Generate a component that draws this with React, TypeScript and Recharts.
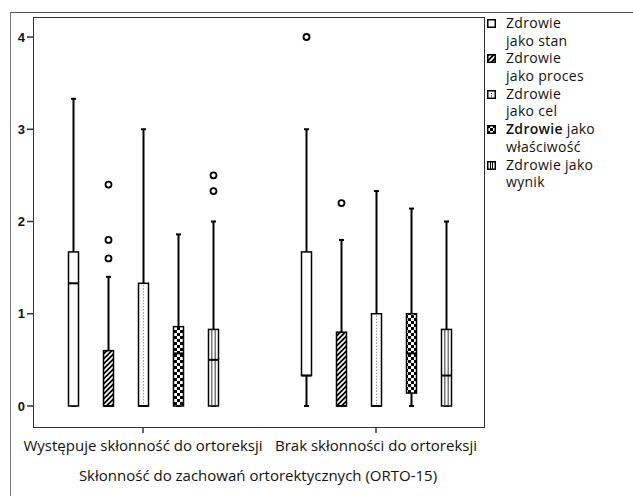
import { ComposedChart, Bar, XAxis, YAxis } from "recharts";

// box stats per category: [min, q1, median, q3, max]
const categories = [
  "Występuje skłonność do ortoreksji",
  "Brak skłonności do ortoreksji",
];

const stan = [
  [0, 0, 1.33, 1.67, 3.33],
  [0, 0.33, 0.33, 1.67, 3],
];
const proces = [
  [0, 0, 0, 0.6, 1.4],
  [0, 0, 0, 0.8, 1.8],
];
const cel = [
  [0, 0, 0, 1.33, 3],
  [0, 0, 0, 1, 2.33],
];
const wlasciwosc = [
  [0, 0, 0.57, 0.86, 1.86],
  [0, 0.14, 0.57, 1, 2.14],
];
const wynik = [
  [0, 0, 0.5, 0.83, 2],
  [0, 0, 0.33, 0.83, 2],
];

const stanOutliers = [[], [4]];
const procesOutliers = [[2.4, 1.8, 1.6], [2.2]];
const celOutliers = [[], []];
const wlasciwoscOutliers = [[], []];
const wynikOutliers = [[2.5, 2.33], []];

const yTicks = [0, 1, 2, 3, 4];

const seriesKeys = ["stan", "proces", "cel", "wlasciwosc", "wynik"];
const seriesNames = [
  "Zdrowie jako stan",
  "Zdrowie jako proces",
  "Zdrowie jako cel",
  "Zdrowie jako właściwość",
  "Zdrowie jako wynik",
];
const legendLines = [
  ["Zdrowie", "jako stan"],
  ["Zdrowie", "jako proces"],
  ["Zdrowie", "jako cel"],
  ["Zdrowie jako", "właściwość"],
  ["Zdrowie jako", "wynik"],
];

const data = categories.map((name, i) => ({
  name,
  stan: stan[i],
  proces: proces[i],
  cel: cel[i],
  wlasciwosc: wlasciwosc[i],
  wynik: wynik[i],
  stanOut: stanOutliers[i],
  procesOut: procesOutliers[i],
  celOut: celOutliers[i],
  wlasciwoscOut: wlasciwoscOutliers[i],
  wynikOut: wynikOutliers[i],
}));

const FONT = '"Open Sans", sans-serif';

function PatternDefs({ prefix }: { prefix: string }) {
  return (
    <defs>
      <pattern
        id={`${prefix}-hatch`}
        patternUnits="userSpaceOnUse"
        width={5}
        height={5}
      >
        <rect width={5} height={5} fill="#000" />
        <path d="M-1,6 L6,-1 M-1,1 L1,-1 M4,6 L6,4" stroke="#fff" strokeWidth={1.7} />
      </pattern>
      <pattern
        id={`${prefix}-check`}
        patternUnits="userSpaceOnUse"
        width={6}
        height={6}
      >
        <rect width={6} height={6} fill="#fff" />
        <rect width={3} height={3} fill="#000" />
        <rect x={3} y={3} width={3} height={3} fill="#000" />
      </pattern>
    </defs>
  );
}

function fillFor(kind: string, prefix: string) {
  if (kind === "proces") return `url(#${prefix}-hatch)`;
  if (kind === "wlasciwosc") return `url(#${prefix}-check)`;
  return "#fff";
}

function BoxShape(props: any) {
  const { x, y, width, height, payload, kind } = props;
  const [mn, q1, med, q3, mx] = payload[kind] as number[];
  const outs = payload[`${kind}Out`] as number[];
  const pos = (v: number) => y + (height * (mx - v)) / (mx - mn);
  const cx = x + width / 2;
  const top = pos(q3);
  const bottom = pos(q1);
  return (
    <g>
      <line x1={cx} x2={cx} y1={pos(mx)} y2={pos(mn)} stroke="#000" strokeWidth={2} />
      <line x1={cx - 2.5} x2={cx + 2.5} y1={pos(mx)} y2={pos(mx)} stroke="#000" strokeWidth={2} />
      <line x1={cx - 2.5} x2={cx + 2.5} y1={pos(mn)} y2={pos(mn)} stroke="#000" strokeWidth={2} />
      <rect
        x={x}
        y={top}
        width={width}
        height={bottom - top}
        fill={fillFor(kind, "plot")}
        stroke="#000"
        strokeWidth={1.5}
      />
      {kind === "cel" && (
        <line
          x1={cx}
          x2={cx}
          y1={top + 2}
          y2={bottom - 1}
          stroke="#666"
          strokeWidth={1}
          strokeDasharray="1 2"
        />
      )}
      {kind === "wynik" && (
        <g stroke="#333" strokeWidth={1}>
          <line x1={x + width / 3} x2={x + width / 3} y1={top} y2={bottom} />
          <line x1={x + (2 * width) / 3} x2={x + (2 * width) / 3} y1={top} y2={bottom} />
        </g>
      )}
      <line x1={x} x2={x + width} y1={pos(med)} y2={pos(med)} stroke="#000" strokeWidth={2} />
      {outs.map((o, i) => (
        <circle key={i} cx={cx} cy={pos(o)} r={3} fill="#fff" stroke="#000" strokeWidth={1.8} />
      ))}
    </g>
  );
}

function LegendMarker({ kind }: { kind: string }) {
  const p = `lg-${kind}`;
  return (
    <svg width={9} height={9} style={{ display: "block" }}>
      <PatternDefs prefix={p} />
      <rect x={0.75} y={0.75} width={7.5} height={7.5} fill={fillFor(kind, p)} stroke="#000" strokeWidth={1.5} />
      {kind === "cel" && <rect x={4} y={3} width={1} height={1} fill="#000" />}
      {kind === "cel" && <rect x={4} y={5.5} width={1} height={1} fill="#000" />}
      {kind === "wynik" && (
        <g stroke="#000" strokeWidth={1}>
          <line x1={3.5} x2={3.5} y1={1} y2={8} />
          <line x1={5.5} x2={5.5} y1={1} y2={8} />
        </g>
      )}
    </svg>
  );
}

export default function App() {
  return (
    <div
      style={{
        position: "relative",
        width: 633,
        height: 496,
        background: "#fff",
        overflow: "hidden",
        fontFamily: FONT,
      }}
    >
      <style>{`body{margin:0}`}</style>
      {/* outer frame */}
      <div
        style={{
          position: "absolute",
          left: 10,
          top: 12,
          width: 640,
          height: 500,
          borderLeft: "1.5px solid #777",
          borderTop: "1.5px solid #555",
        }}
      />
      {/* plot frame */}
      <div
        style={{
          position: "absolute",
          left: 32.5,
          top: 16.5,
          width: 450,
          height: 409,
          border: "1.5px solid #333",
        }}
      />
      <ComposedChart
        width={633}
        height={496}
        data={data}
        margin={{ top: 17, right: 150, bottom: 39, left: 0 }}
        barSize={10}
        barGap={25}
        style={{ position: "absolute", left: 0, top: 0 }}
      >
        <PatternDefs prefix="plot" />
        <XAxis
          dataKey="name"
          padding={{ left: -6.5, right: -9.5 }}
          height={30}
          tickSize={6}
          tickMargin={7}
          axisLine={false}
          tickLine={{ stroke: "#333", strokeWidth: 1.5 }}
          tick={{ fill: "#111", fontSize: 15, fontFamily: FONT }}
          label={{
            value: "Skłonność do zachowań ortorektycznych (ORTO-15)",
            position: "bottom",
            offset: 13,
            fill: "#111",
            fontSize: 15,
            fontFamily: FONT,
          }}
        />
        <YAxis
          domain={[-0.228, 4.217]}
          ticks={yTicks}
          width={33}
          tickSize={6}
          tickMargin={2}
          allowDataOverflow
          axisLine={false}
          tickLine={{ stroke: "#333", strokeWidth: 1.5 }}
          tick={{ fill: "#111", fontSize: 13, fontFamily: '"Liberation Sans", Arial', fontWeight: 700 }}
        />
        {seriesKeys.map((k, i) => (
          <Bar
            key={k}
            name={seriesNames[i]}
            dataKey={(d: any) => [d[k][0], d[k][4]]}
            isAnimationActive={false}
            shape={(p: any) => <BoxShape {...p} kind={k} />}
          />
        ))}
      </ComposedChart>
      <div
        style={{
          position: "absolute",
          left: 487,
          top: 14,
          fontSize: 14,
          letterSpacing: 0.3,
          lineHeight: "17.7px",
          color: "#111",
        }}
      >
        {seriesKeys.map((k, i) => (
          <div key={k} style={{ display: "flex", alignItems: "flex-start", height: 35.4 }}>
            <div style={{ paddingTop: 5, width: 19 }}>
              <LegendMarker kind={k} />
            </div>
            <div>
              {legendLines[i].map((line, j) => (
                <div key={j}>
                  {i === 3 && j === 0 ? (
                    <>
                      <span style={{ fontWeight: 600 }}>Zdrowie</span> jako
                    </>
                  ) : (
                    line
                  )}
                </div>
              ))}
            </div>
          </div>
        ))}
      </div>
    </div>
  );
}
